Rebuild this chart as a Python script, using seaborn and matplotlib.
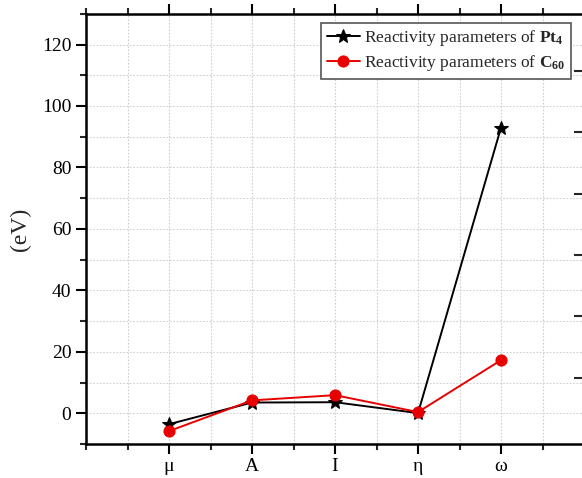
import numpy as np
import pandas as pd
import matplotlib
matplotlib.use("Agg")
import matplotlib.pyplot as plt
from matplotlib.ticker import MultipleLocator, FixedLocator, NullFormatter
import seaborn as sns

# Global reactivity descriptors (eV)
categories = ["μ", "A", "I", "η", "ω"]
pt4_values = [-3.55, 3.5, 3.6, 0.07, 93.0]
c60_values = [-5.8, 4.2, 5.9, 0.4, 17.3]
pt4_label = r"Reactivity parameters of $\mathbf{Pt_4}$"
c60_label = r"Reactivity parameters of $\mathbf{C_{60}}$"
y_label = "(eV)"

sns.set_style("ticks")
plt.rcParams["font.family"] = ["Liberation Serif", "DejaVu Serif"]
plt.rcParams["mathtext.fontset"] = "custom"
plt.rcParams["mathtext.rm"] = "Liberation Serif"
plt.rcParams["mathtext.bf"] = "Liberation Serif:bold"
plt.rcParams["mathtext.it"] = "Liberation Serif:italic"

positions = np.arange(len(categories)) + 1
df = pd.DataFrame({
    "pos": np.concatenate([positions, positions]),
    "value": pt4_values + c60_values,
    "series": [pt4_label] * len(categories) + [c60_label] * len(categories),
})

fig = plt.figure(figsize=(5.82, 4.78), dpi=100)
ax = fig.add_axes([0.1478, 0.0711, 0.8557, 0.9000])

sns.lineplot(data=df[df.series == pt4_label], x="pos", y="value", ax=ax,
             color="black", marker="*", markersize=10, markeredgecolor="black",
             linewidth=1.4, label=pt4_label, zorder=3)
sns.lineplot(data=df[df.series == c60_label], x="pos", y="value", ax=ax,
             color="#e80000", marker="o", markersize=8, markeredgecolor="#e80000",
             linewidth=1.4, label=c60_label, zorder=4)

ax.set_xlim(0, 6)
ax.set_ylim(-10, 130)
ax.xaxis.set_major_locator(FixedLocator(positions))
ax.set_xticklabels(categories)
ax.xaxis.set_minor_locator(MultipleLocator(0.5))
ax.yaxis.set_major_locator(MultipleLocator(20))
ax.yaxis.set_minor_locator(MultipleLocator(10))
ax.set_xlabel("")
ax.set_ylabel(y_label, fontsize=17, labelpad=8)

ax.grid(True, which="both", color="#cfcfcf", linestyle=(0, (1.5, 1.5)), linewidth=0.8)
ax.set_axisbelow(True)

for side in ["left", "bottom", "top", "right"]:
    ax.spines[side].set_linewidth(1.8)
    ax.spines[side].set_color("black")

ax.tick_params(axis="both", which="major", direction="out", length=7, width=1.5,
               labelsize=14, colors="black", top=True)
ax.tick_params(axis="both", which="minor", direction="out", length=4, width=1.5, top=True)
ax.tick_params(axis="x", which="major", pad=3, labelsize=14)
ax.tick_params(axis="x", which="both", labeltop=False)

# secondary scale on the right edge, ticks only
rax = ax.twinx()
rax.set_ylim(ax.get_ylim())
rax.yaxis.set_major_locator(FixedLocator([11.5, 31.5, 51.5, 71.5, 91.5, 111.5]))
rax.yaxis.set_major_formatter(NullFormatter())
rax.tick_params(axis="y", direction="in", length=7, width=1.5)
for side in rax.spines.values():
    side.set_visible(False)

leg = ax.legend(loc="upper right", bbox_to_anchor=(0.98, 0.987), fontsize=12.5,
                frameon=True, fancybox=False, edgecolor="#555555", framealpha=1,
                handlelength=1.9, borderpad=0.3, labelspacing=0.3, handletextpad=0.25,
                borderaxespad=0.2)
leg.get_frame().set_linewidth(1.2)

fig.savefig("out.png", dpi=100)
